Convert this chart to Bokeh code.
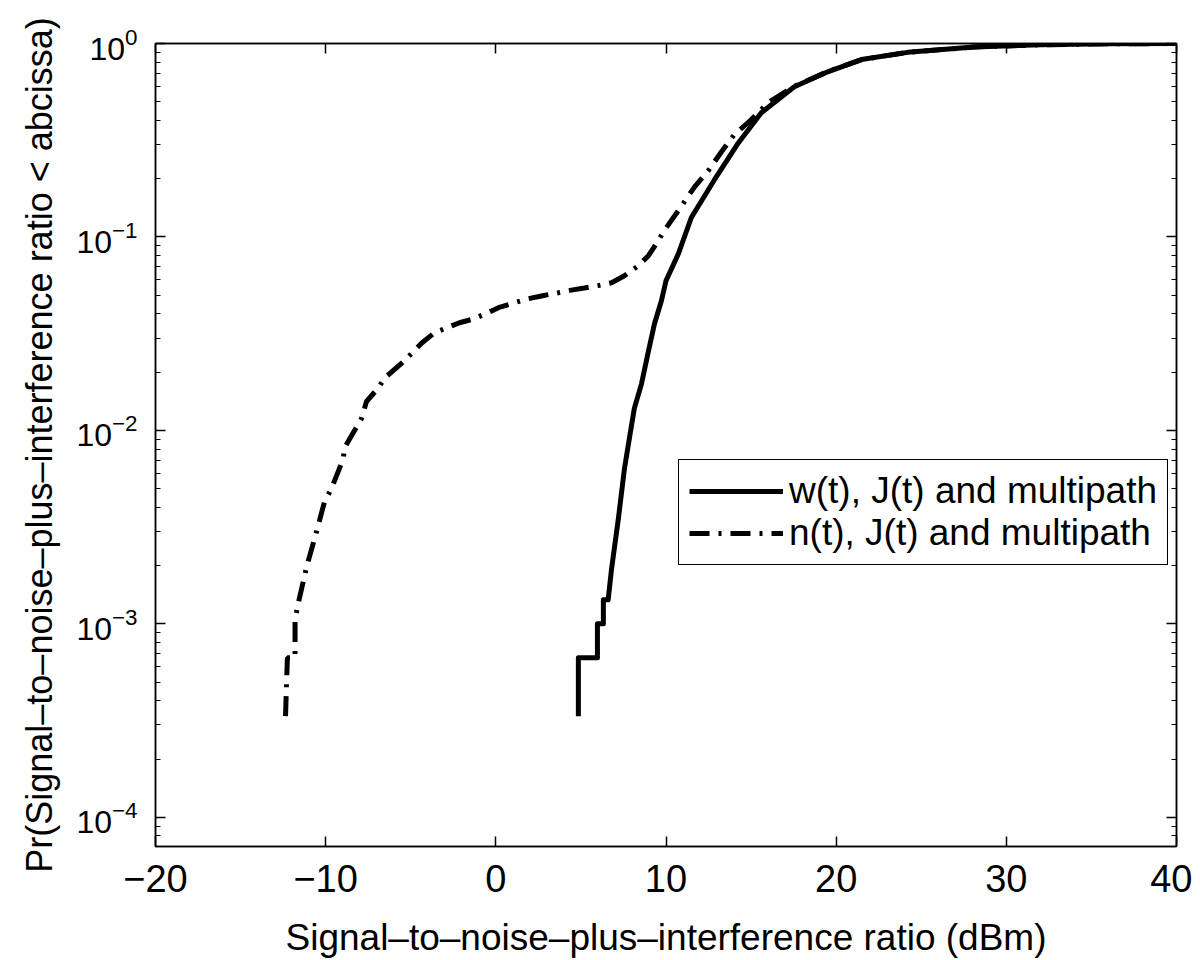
from bokeh.plotting import figure
from bokeh.models import (LogAxis, LinearAxis, Legend, LegendItem, FixedTicker,
                          Range1d, LogTicker, CustomJSTickFormatter, Title)
from bokeh.embed import file_html
from bokeh.resources import INLINE

# ---- data ----
w_label = "w(t), J(t) and multipath"
w_x = [4.85, 4.85, 5.97, 5.97, 6.32, 6.32, 6.6, 6.8, 7.2, 7.56, 7.85, 8.14, 8.56,
       8.97, 9.32, 9.73, 10.0, 10.73, 11.49, 12.84, 14.25, 15.6, 17.54, 19.54,
       21.48, 24.2, 28.1, 32.0, 36.0, 40.0]
w_y = [3.33e-4, 6.67e-4, 6.67e-4, 1.0e-3, 1.0e-3, 1.33e-3, 1.33e-3, 1.92e-3,
       3.49e-3, 6.35e-3, 9.12e-3, 0.0130, 0.0174, 0.0257, 0.0355, 0.0468, 0.0594,
       0.082, 0.126, 0.197, 0.306, 0.439, 0.598, 0.716, 0.826, 0.90, 0.96, 0.985,
       0.996, 1.0]

n_label = "n(t), J(t) and multipath"
n_x = [-12.36, -12.25, -11.8, -11.8, -11.6, -11.1, -10.54, -10.07, -9.66, -8.96,
       -8.9, -7.9, -7.6, -6.9, -6.55, -5.37, -4.37, -3.6, -2.14, -1.26, -0.44,
       0.15, 1.1, 1.9, 2.68, 3.68, 4.44, 5.2, 6.0, 6.8, 7.56, 8.38, 8.97, 9.44,
       9.9, 10.73, 11.67, 12.5, 13.25, 14.0, 15.0, 16.0, 17.5, 19.5, 21.5, 24.2,
       28.1, 32.0, 36.0, 40.0]
n_y = [3.33e-4, 6.67e-4, 6.67e-4, 1.05e-3, 1.29e-3, 2.0e-3, 2.99e-3, 4.27e-3,
       5.0e-3, 7.16e-3, 8.1e-3, 0.0115, 0.0141, 0.0166, 0.0186, 0.0229, 0.0282,
       0.032, 0.036, 0.0378, 0.0407, 0.0431, 0.0457, 0.0479, 0.0495, 0.0515,
       0.0531, 0.0544, 0.056, 0.058, 0.063, 0.0711, 0.080, 0.0925, 0.108, 0.137,
       0.181, 0.221, 0.275, 0.337, 0.403, 0.494, 0.598, 0.716, 0.826, 0.90, 0.96,
       0.985, 0.996, 1.0]

x_ticks = [-20, -10, 0, 10, 20, 30, 40]
x_title = "Signal\u2013to\u2013noise\u2013plus\u2013interference ratio (dBm)"
y_title = "Pr(Signal\u2013to\u2013noise\u2013plus\u2013interference ratio < abcissa)"

FONT = "Liberation Sans"

p = figure(frame_width=1021, frame_height=803,
           min_border_left=155, min_border_top=43, min_border_right=16,
           min_border_bottom=110,
           x_range=Range1d(-20, 40), y_range=Range1d(7.06e-5, 1.0),
           y_axis_type="log", output_backend="svg", toolbar_location=None)
p.background_fill_color = "white"
p.border_fill_color = "white"
p.xgrid.visible = False
p.ygrid.visible = False
p.outline_line_color = "black"
p.outline_line_width = 1.5

r_w = p.line(w_x, w_y, line_color="black", line_width=5, line_join="round")
r_n = p.line(n_x, n_y, line_color="black", line_width=5, line_dash="20 9 3 9")

# bottom / left axes
xa = p.xaxis[0]
xa.ticker = FixedTicker(ticks=x_ticks, minor_ticks=[])
ya = p.yaxis[0]
ya.ticker = LogTicker(num_minor_ticks=10)

for ax in (xa, ya):
    ax.axis_line_color = "black"
    ax.axis_line_width = 1.5
    ax.major_tick_in = 10
    ax.major_tick_out = 0
    ax.minor_tick_in = 5
    ax.minor_tick_out = 0
    ax.major_tick_line_width = 1.5
    ax.minor_tick_line_width = 1.2
    ax.major_label_text_font = FONT
    ax.major_label_text_color = "black"
    ax.axis_label_text_font = FONT
    ax.axis_label_text_font_style = "normal"
    ax.axis_label_text_color = "black"

xa.major_label_text_font_size = "38px"
ya.major_label_text_font_size = "32px"
xa.axis_label_text_font_size = "37px"
xa.axis_label = x_title
xa.major_label_standoff = 18
xa.axis_label_standoff = 22
ya.major_label_standoff = 18

# y title as a left-side title, shifted up a little like the reference
yt = Title(text=y_title, align="center", offset=55, vertical_align="bottom",
           text_font=FONT, text_font_size="36px", text_font_style="normal",
           text_color="black")
if "standoff" in Title.properties():
    yt.standoff = 27
p.add_layout(yt, "left")

# top / right axes (box with inward ticks, no labels)
top = LinearAxis(ticker=FixedTicker(ticks=x_ticks, minor_ticks=[]),
                 formatter=CustomJSTickFormatter(code="return ''"))
right = LogAxis(ticker=LogTicker(num_minor_ticks=10),
                formatter=CustomJSTickFormatter(code="return ''"))
for ax in (top, right):
    ax.axis_line_color = "black"
    ax.axis_line_width = 1.5
    ax.major_tick_in = 10
    ax.major_tick_out = 0
    ax.minor_tick_in = 5
    ax.minor_tick_out = 0
    ax.major_tick_line_width = 1.5
    ax.minor_tick_line_width = 1.2
    ax.major_label_standoff = 0
p.add_layout(top, "above")
p.add_layout(right, "right")

legend = Legend(items=[LegendItem(label=w_label, renderers=[r_w]),
                       LegendItem(label=n_label, renderers=[r_n])],
                location=(523, 281))
legend.border_line_color = "black"
legend.border_line_alpha = 1.0
legend.border_line_width = 1.5
legend.background_fill_color = "white"
legend.background_fill_alpha = 1.0
legend.label_text_font = FONT
legend.label_text_font_size = "37px"
legend.label_text_color = "black"
legend.glyph_width = 94
legend.glyph_height = 36
legend.label_height = 36
legend.label_standoff = 6
legend.padding = 10
legend.spacing = 0
legend.margin = 0
legend.title_standoff = 0
p.add_layout(legend, "center")

open("out.html", "w").write(file_html(p, INLINE))
